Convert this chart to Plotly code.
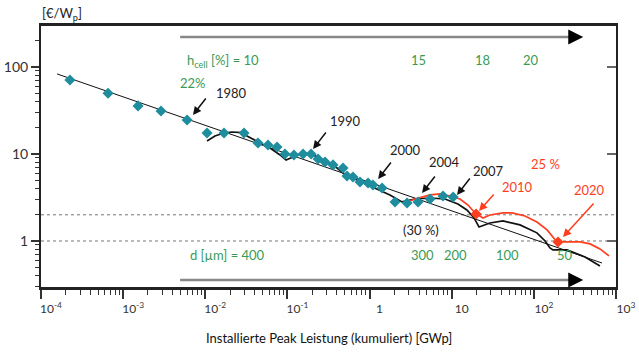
import numpy as np
import plotly.graph_objects as go

# ---------------- data ----------------
teal_x = [2.25e-4, 6.55e-4, 1.52e-3, 2.89e-3, 6.0e-3, 0.0105, 0.0169, 0.0296, 0.0438, 0.058,
          0.0747, 0.0933, 0.120, 0.155, 0.194, 0.236, 0.287, 0.359, 0.475, 0.531,
          0.628, 0.765, 0.958, 1.10, 1.42, 2.04, 2.86, 3.89, 5.45, 7.84, 10.4]
teal_y = [71, 50, 35.7, 31.2, 24.6, 17.4, 17.4, 17.4, 13.4, 12.7,
          12.0, 10.0, 9.75, 10.0, 10.0, 8.77, 8.09, 7.49, 6.90, 5.58,
          5.44, 4.77, 4.64, 4.40, 4.07, 2.80, 2.73, 2.80, 3.04, 3.29, 3.21]

learn_x = [1.57e-4, 676]
learn_y = [83.2, 0.558]

wave_x = [0.0105, 0.0131, 0.0169, 0.0211, 0.028, 0.0322, 0.0464, 0.0614, 0.0813, 0.0962,
          0.117, 0.155, 0.205, 0.271, 0.402, 0.475, 0.703, 1.10, 1.77, 2.48,
          3.57, 5.44, 8.28, 11.9, 15.3, 18.7, 21.5,
          29.2, 42.1, 67.8, 109, 137, 157, 171, 253, 420, 638]
wave_y = [14.1, 16.1, 17.4, 17.9, 17.6, 16.1, 13.4, 11.7, 9.75, 8.53,
          9.24, 10.3, 9.75, 8.53, 6.90, 6.05, 5.03, 4.18, 3.38, 2.81,
          3.04, 3.12, 3.04, 2.66, 2.27, 1.84, 1.45,
          1.61, 1.70, 1.53, 1.24, 1.0, 0.832, 0.789, 0.789, 0.655, 0.516]

red_x = [2.70, 3.57, 5.44, 7.21, 9.53, 12.6, 15.8, 19.2, 24.0, 29.2, 42.1, 54.2, 78,
         109, 145, 171, 191, 253, 365, 483, 638, 822]
red_y = [2.73, 3.04, 3.38, 3.47, 3.29, 3.04, 2.59, 2.10, 1.84, 1.99, 2.10, 2.10, 1.94,
         1.65, 1.34, 1.11, 0.975, 0.975, 0.975, 0.925, 0.81, 0.673]

red_pts_x = [19.8, 197]
red_pts_y = [2.04, 0.975]

ref_levels = [2, 1]

x_tickvals = [1e-4, 1e-3, 1e-2, 1e-1, 1, 10, 100, 1000]
x_ticktext = ["10<sup>-4</sup>", "10<sup>-3</sup>", "10<sup>-2</sup>", "10<sup>-1</sup>",
              "1", "10", "10<sup>2</sup>", "10<sup>3</sup>"]
y_tickvals = [1, 10, 100]
y_ticktext = ["1", "10", "100"]

# arrows: year labels, tip positions (data), label positions (data)
black_labels = ["1980", "1990", "2000", "2004", "2007"]
black_tip_x = [7.08e-3, 0.205, 1.27, 4.35, 11.6]
black_tip_y = [28.1, 11.4, 5.16, 3.56, 3.38]
black_lab_x = [0.0211, 0.516, 2.70, 8.28, 27.7]
black_lab_y = [50.2, 23.9, 11.1, 8.09, 6.38]

red_labels = ["2010", "2020"]
red_tip_x = [21.5, 226]
red_tip_y = [2.21, 1.11]
red_lab_x = [64.1, 470]
red_lab_y = [4.18, 3.85]

eff_top = ["15", "18", "20"]
thick_bottom = ["300", "200", "100", "50"]

# ---------------- figure ----------------
FONT = "Lato"
GREEN = "#3a9a55"
RED = "#ff3d1f"
TEAL = "#1f8d9d"

fig = go.Figure()

for lvl in ref_levels:
    fig.add_trace(go.Scatter(x=[1e-4, 1e3], y=[lvl, lvl], mode="lines",
                             line=dict(color="#777", width=1, dash="dot"),
                             hoverinfo="skip", showlegend=False))

fig.add_trace(go.Scatter(x=learn_x, y=learn_y, mode="lines",
                         line=dict(color="#111", width=1), showlegend=False))
fig.add_trace(go.Scatter(x=wave_x, y=wave_y, mode="lines",
                         line=dict(color="#111", width=1.7), showlegend=False))
fig.add_trace(go.Scatter(x=red_x, y=red_y, mode="lines",
                         line=dict(color=RED, width=1.7), showlegend=False))
fig.add_trace(go.Scatter(x=teal_x, y=teal_y, mode="markers",
                         marker=dict(symbol="diamond", size=8.5, color=TEAL),
                         showlegend=False))
fig.add_trace(go.Scatter(x=red_pts_x, y=red_pts_y, mode="markers",
                         marker=dict(symbol="diamond", size=8.5, color=RED),
                         showlegend=False))

annotations = []
for lab, tx, ty, lx, ly in zip(black_labels, black_tip_x, black_tip_y, black_lab_x, black_lab_y):
    annotations.append(dict(x=np.log10(tx), y=np.log10(ty), xref="x", yref="y", text="",
                            showarrow=True, arrowhead=2, arrowsize=1.1, arrowwidth=1.5,
                            arrowcolor="#111", ax=14, ay=-18))
    annotations.append(dict(x=np.log10(lx), y=np.log10(ly), xref="x", yref="y", text=lab,
                            showarrow=False, font=dict(family=FONT, size=13, color="#222")))
for lab, tx, ty, lx, ly in zip(red_labels, red_tip_x, red_tip_y, red_lab_x, red_lab_y):
    off = (16, -18) if lab == "2010" else (32, -35)
    annotations.append(dict(x=np.log10(tx), y=np.log10(ty), xref="x", yref="y", text="",
                            showarrow=True, arrowhead=2, arrowsize=1.1, arrowwidth=1.5,
                            arrowcolor=RED, ax=off[0], ay=off[1]))
    annotations.append(dict(x=np.log10(lx), y=np.log10(ly), xref="x", yref="y", text=lab,
                            showarrow=False, font=dict(family=FONT, size=13, color=RED)))

# percentages
annotations.append(dict(x=np.log10(7.08e-3), y=np.log10(65.5), xref="x", yref="y", text="22%",
                        showarrow=False, font=dict(family=FONT, size=13, color=GREEN)))
annotations.append(dict(x=np.log10(137), y=np.log10(7.67), xref="x", yref="y", text="25 %",
                        showarrow=False, font=dict(family=FONT, size=13, color=RED)))
annotations.append(dict(x=np.log10(4.23), y=np.log10(1.34), xref="x", yref="y", text="(30 %)",
                        showarrow=False, font=dict(family=FONT, size=13, color="#222")))

# top scale (cell efficiency)
annotations.append(dict(x=0.25, y=0.908, xref="paper", yref="paper", xanchor="left",
                        text="h<sub>cell</sub> [%] = 10", showarrow=False,
                        font=dict(family=FONT, size=13, color=GREEN)))
for lab, px in zip(eff_top, [0.657, 0.784, 0.870]):
    annotations.append(dict(x=px, y=0.908, xref="paper", yref="paper", text=lab,
                            showarrow=False, font=dict(family=FONT, size=13, color=GREEN)))
# bottom scale (wafer thickness)
annotations.append(dict(x=0.256, y=0.084, xref="paper", yref="paper", xanchor="left",
                        text="d [µm] = 400", showarrow=False,
                        font=dict(family=FONT, size=13, color=GREEN)))
for lab, px in zip(thick_bottom, [0.664, 0.744, 0.835, 0.929]):
    annotations.append(dict(x=px, y=0.084, xref="paper", yref="paper", text=lab,
                            showarrow=False, font=dict(family=FONT, size=13, color=GREEN)))

# arrowheads of the scale lines
for yy in [0.958, 0.0268]:
    annotations.append(dict(x=0.943, y=yy, xref="paper", yref="paper", text="",
                            showarrow=True, arrowhead=2, arrowsize=1.5, arrowwidth=2,
                            arrowcolor="#000", ax=-6, ay=0))

# axis titles
annotations.append(dict(x=-0.001, y=1.088, xref="paper", yref="paper", yanchor="top",
                        text="[€/W<sub>p</sub>]",
                        showarrow=False, font=dict(family=FONT, size=13, color="#222")))
annotations.append(dict(x=0.5, y=-0.234, xref="paper", yref="paper",
                        text="Installierte Peak Leistung (kumuliert) [GWp]",
                        showarrow=False, font=dict(family=FONT, size=13, color="#111")))

shapes = []
for yy in [0.958, 0.0268]:
    shapes.append(dict(type="line", xref="paper", yref="paper", x0=0.242, x1=0.935,
                       y0=yy, y1=yy, line=dict(color="#888", width=2.5)))

x_minor = [m * 10.0 ** e for e in range(-4, 3) for m in range(2, 10)]
y_minor = [m * 10.0 ** e for e in range(-1, 3) for m in range(2, 10)]

fig.update_layout(
    width=639, height=360,
    margin=dict(l=41, r=23, t=26, b=73, autoexpand=False),
    paper_bgcolor="white", plot_bgcolor="white",
    font=dict(family=FONT, color="#333"),
    showlegend=False,
    annotations=annotations,
    shapes=shapes,
    xaxis=dict(type="log", range=[-4, 3], showgrid=False, zeroline=False, automargin=False,
               showline=True, linecolor="#222", linewidth=2.5, mirror=True,
               ticks="outside", ticklen=9, tickwidth=1.5, tickcolor="#333",
               tickmode="array", tickvals=x_tickvals, ticktext=x_ticktext,
               tickfont=dict(family=FONT, size=12, color="#333"), ticklabelshift=10,
               minor=dict(ticks="outside", ticklen=5, tickwidth=1.2, tickcolor="#333",
                          tickmode="array", tickvals=x_minor)),
    yaxis=dict(type="log", range=[-0.529, 2.471], showgrid=False, zeroline=False,
               automargin=False,
               showline=True, linecolor="#222", linewidth=2, mirror=True,
               ticks="outside", ticklen=8, tickwidth=1.5, tickcolor="#333",
               tickmode="array", tickvals=y_tickvals, ticktext=y_ticktext,
               tickfont=dict(family=FONT, size=14, color="#333"),
               minor=dict(ticks="outside", ticklen=4, tickwidth=1, tickcolor="#333",
                          tickmode="array", tickvals=y_minor)),
    yaxis2=dict(type="log", range=[-0.529, 2.471], overlaying="y", side="right",
                showgrid=False, zeroline=False, showline=False, showticklabels=False,
                automargin=False,
                ticks="inside", ticklen=9, tickwidth=1.5, tickcolor="#666",
                tickmode="array", tickvals=y_tickvals),
)
# invisible trace to activate right axis
fig.add_trace(go.Scatter(x=[1], y=[1], yaxis="y2", mode="markers",
                         marker=dict(opacity=0), hoverinfo="skip", showlegend=False))

# remove the default page margin so the 639x360 figure fills the window
fig.write_html("out.html", config={"displayModeBar": False},
               post_script="document.body.style.margin='0';document.body.style.overflow='hidden';")
